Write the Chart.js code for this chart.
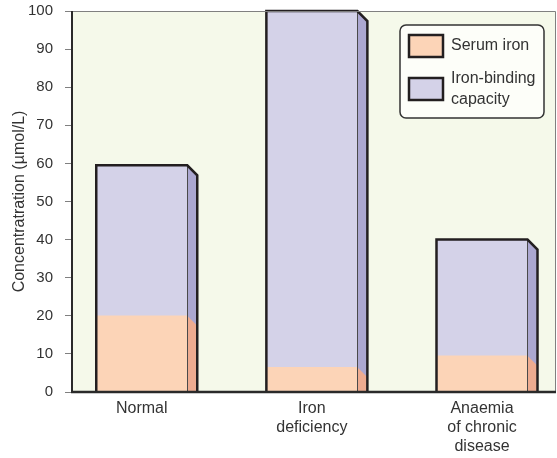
<!DOCTYPE html>
<html>
<head>
<meta charset="utf-8">
<script src="https://cdn.jsdelivr.net/npm/chart.js@4/dist/chart.umd.min.js"></script>
<style>
  html, body { margin: 0; padding: 0; background: #fff; }
</style>
</head>
<body>
<canvas id="ironChart" width="557" height="458"></canvas>
<script>
// ====== DATOS ======
const categories = ["Normal", ["Iron", "deficiency"], ["Anaemia", "of chronic", "disease"]];
const serumIron = [20, 6.5, 9.5];
const bindingCapacity = [59.5, 100, 40];
const legendLines = [["Serum iron"], ["Iron-binding", "capacity"]];
const yTicks = [0, 10, 20, 30, 40, 50, 60, 70, 80, 90, 100];

const FONT = "'Liberation Sans', Arial, sans-serif";
const TEXT = "#333333";
const DEPTH = 10;

const frontColors = ["#fcd4b7", "#d4d2e8"];
const sideColors = ["#edab90", "#aba7d0"];

// ====== PLUGIN: FONDO, CARAS 3D, MARCO Y LEYENDA ======
const boxPlugin = {
    id: "boxPlugin",
    beforeDatasetsDraw(chart) {
        const { ctx, chartArea: a } = chart;
        ctx.save();
        ctx.fillStyle = "#f5f9ea";
        ctx.fillRect(a.left, a.top, a.right - a.left, a.bottom - a.top);
        ctx.restore();
    },
    afterDatasetsDraw(chart) {
        const { ctx, chartArea: a } = chart;
        const serumMeta = chart.getDatasetMeta(0);
        const capMeta = chart.getDatasetMeta(1);
        ctx.save();
        capMeta.data.forEach((bar, i) => {
            const ser = serumMeta.data[i];
            const left = bar.x - bar.width / 2;
            const right = bar.x + bar.width / 2;
            const base = bar.base;

            // cara lateral (capacidad)
            ctx.fillStyle = sideColors[1];
            ctx.beginPath();
            ctx.moveTo(right, bar.y);
            ctx.lineTo(right + DEPTH, bar.y + DEPTH);
            ctx.lineTo(right + DEPTH, base);
            ctx.lineTo(right, base);
            ctx.closePath();
            ctx.fill();

            // cara lateral (hierro sérico)
            ctx.fillStyle = sideColors[0];
            ctx.beginPath();
            ctx.moveTo(right, ser.y);
            ctx.lineTo(right + DEPTH, ser.y + DEPTH);
            ctx.lineTo(right + DEPTH, base);
            ctx.lineTo(right, base);
            ctx.closePath();
            ctx.fill();

            // arista frontal derecha
            ctx.strokeStyle = "#4a4a4a";
            ctx.lineWidth = 1;
            ctx.beginPath();
            ctx.moveTo(Math.round(right) + 0.5, bar.y);
            ctx.lineTo(Math.round(right) + 0.5, base);
            ctx.stroke();

            // contorno exterior
            ctx.strokeStyle = "#231f20";
            ctx.lineWidth = 2.5;
            ctx.lineJoin = "miter";
            ctx.beginPath();
            ctx.moveTo(left, base);
            ctx.lineTo(left, bar.y);
            ctx.lineTo(right, bar.y);
            ctx.lineTo(right + DEPTH, bar.y + DEPTH);
            ctx.lineTo(right + DEPTH, base);
            ctx.stroke();
        });

        // marco del área
        ctx.strokeStyle = "#808080";
        ctx.lineWidth = 1;
        ctx.beginPath();
        ctx.moveTo(a.left, a.top + 0.5);
        ctx.lineTo(a.right - 0.5, a.top + 0.5);
        ctx.lineTo(a.right - 0.5, a.bottom);
        ctx.stroke();

        ctx.strokeStyle = "#2a2a2a";
        ctx.lineWidth = 2;
        ctx.beginPath();
        ctx.moveTo(a.left, a.top);
        ctx.lineTo(a.left, a.bottom);
        ctx.stroke();

        ctx.lineWidth = 2.5;
        ctx.beginPath();
        ctx.moveTo(a.left - 1, a.bottom);
        ctx.lineTo(a.right, a.bottom);
        ctx.stroke();
        ctx.restore();
    },
    afterDraw(chart) {
        const { ctx } = chart;
        const x = 400, y = 25, w = 144, h = 93, r = 6;
        ctx.save();
        ctx.fillStyle = "#fdfef9";
        ctx.strokeStyle = "#333333";
        ctx.lineWidth = 1.5;
        ctx.beginPath();
        ctx.roundRect(x, y, w, h, r);
        ctx.fill();
        ctx.stroke();

        ctx.font = "16px " + FONT;
        ctx.textBaseline = "middle";
        const rows = [46, 89];
        legendLines.forEach((lines, i) => {
            ctx.fillStyle = frontColors[i];
            ctx.fillRect(409, rows[i] - 11, 34, 22);
            ctx.strokeStyle = "#231f20";
            ctx.lineWidth = 2.5;
            ctx.strokeRect(409, rows[i] - 11, 34, 22);
            ctx.fillStyle = TEXT;
            const start = rows[i] - (lines.length - 1) * 10.5;
            lines.forEach((t, j) => ctx.fillText(t, 451, start + j * 21));
        });
        ctx.restore();
    }
};

// ====== GRÁFICO ======
document.addEventListener("DOMContentLoaded", () => {
    new Chart(document.getElementById("ironChart"), {
        type: "bar",
        data: {
            labels: categories.map((c, i) => i),
            datasets: [{
                label: "Serum iron",
                data: serumIron,
                backgroundColor: frontColors[0],
                borderWidth: 0,
                grouped: false,
                barThickness: 91
            }, {
                label: "Iron-binding capacity",
                data: bindingCapacity,
                backgroundColor: frontColors[1],
                borderWidth: 0,
                grouped: false,
                barThickness: 91
            }]
        },
        options: {
            responsive: false,
            animation: false,
            layout: { padding: { top: 11, right: 1 } },
            plugins: {
                legend: { display: false },
                tooltip: { enabled: false }
            },
            scales: {
                x: {
                    type: "linear",
                    offset: false,
                    min: -0.41,
                    max: 2.435,
                    grid: { display: false, drawTicks: false },
                    border: { display: false },
                    afterBuildTicks: (scale) => {
                        scale.ticks = categories.map((c, i) => ({ value: i }));
                    },
                    afterFit: (scale) => {
                        scale.height = 66;
                        scale.paddingLeft = 0;
                        scale.paddingRight = 0;
                    },
                    ticks: {
                        autoSkip: false,
                        maxRotation: 0,
                        padding: 7,
                        color: TEXT,
                        font: { family: FONT, size: 16, lineHeight: 1.2 },
                        callback: (v) => categories[v]
                    }
                },
                y: {
                    min: 0,
                    max: 100,
                    stacked: false,
                    grid: {
                        drawOnChartArea: false,
                        drawTicks: true,
                        tickLength: 7,
                        color: "#808080"
                    },
                    border: { display: false },
                    afterBuildTicks: (scale) => {
                        scale.ticks = yTicks.map(v => ({ value: v }));
                    },
                    afterFit: (scale) => {
                        scale.width = 72;
                        scale.paddingTop = 0;
                        scale.paddingBottom = 0;
                    },
                    ticks: {
                        padding: 12,
                        color: TEXT,
                        font: { family: FONT, size: 15 }
                    },
                    title: {
                        display: true,
                        text: "Concentratration (\u00b5mol/L)",
                        color: TEXT,
                        font: { family: FONT, size: 16 },
                        padding: { top: 10, bottom: 0 }
                    }
                }
            }
        },
        plugins: [boxPlugin]
    });
});
</script>
</body>
</html>
